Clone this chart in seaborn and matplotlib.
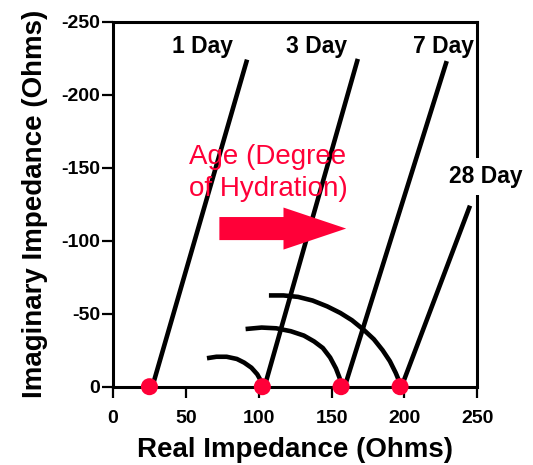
import matplotlib
matplotlib.use("Agg")
import matplotlib.pyplot as plt
import seaborn as sns
import pandas as pd

# Nyquist-style impedance spectra of a hydrating cement paste
ages = ["1 Day", "3 Day", "7 Day", "28 Day"]

# high-frequency intercepts on the real axis (Ohms)
intercept_real = [25, 102.5, 156.5, 197]

# low-frequency electrode spurs: start and end points (real, imaginary)
spur_real_start = [27, 104, 159, 198]
spur_real_end = [92, 168, 229, 245]
spur_imag_end = [-224, -224.5, -223, -124]

# bulk arcs ending at the intercepts of the older pastes
arc_3day_real = [64.5, 71, 78, 85, 90, 95, 99, 101.5, 102.5]
arc_3day_imag = [-19.5, -20.5, -20.5, -19, -16.5, -13, -8.5, -4, 0]

arc_7day_real = [91, 102, 112, 122, 131, 138, 144, 149, 153, 155.5, 156.5]
arc_7day_imag = [-39.5, -40.5, -40, -38, -35, -31, -26.5, -20, -12.5, -6, 0]

arc_28day_real = [107, 117, 127, 137, 147, 156, 164, 172, 179, 185, 190, 194, 196.5, 197]
arc_28day_imag = [-62.5, -62.5, -61.5, -59, -55, -50.5, -45.5, -39, -32.5, -25, -17.5, -9.5, -3.5, 0]

# label anchors (real, imaginary) for each age
label_real = [61.4, 140, 226.7, 256]
label_imag = [-228.3, -228.3, -228.3, -139.7]

x_ticks = [0, 50, 100, 150, 200, 250]
y_ticks = [0, -50, -100, -150, -200, -250]

RED = "#FF0038"
INK = "black"

sns.set_theme(style="white")
plt.rcParams["font.family"] = ["Liberation Sans", "DejaVu Sans"]
plt.rcParams["axes.unicode_minus"] = False

fig = plt.figure(figsize=(5.33, 4.65), dpi=100)
ax = fig.add_axes([0.212, 0.1684, 0.6835, 0.785])

lw = 3.3
# spurs
for x0, x1, y1 in zip(spur_real_start, spur_real_end, spur_imag_end):
    df = pd.DataFrame({"real": [x0, x1], "imag": [0, y1]})
    sns.lineplot(data=df, x="real", y="imag", sort=False, estimator=None,
                 color=INK, lw=lw, ax=ax, solid_capstyle="butt")

# arcs
for xs, ys in [(arc_3day_real, arc_3day_imag),
               (arc_7day_real, arc_7day_imag),
               (arc_28day_real, arc_28day_imag)]:
    df = pd.DataFrame({"real": xs, "imag": ys})
    sns.lineplot(data=df, x="real", y="imag", sort=False, estimator=None,
                 color=INK, lw=lw, ax=ax, solid_capstyle="butt",
                 solid_joinstyle="round")

# intercept markers
dots = pd.DataFrame({"real": intercept_real, "imag": [0] * len(intercept_real)})
sns.scatterplot(data=dots, x="real", y="imag", s=150, color=RED,
                edgecolor="none", zorder=6, clip_on=False, ax=ax)

# age labels
for name, lx, ly in zip(ages, label_real, label_imag):
    kw = {}
    if name == "28 Day":
        kw["bbox"] = dict(boxstyle="square,pad=0.3", fc="white", ec="none")
    ax.text(lx, ly, name, ha="center", va="baseline", fontsize=16.5,
            fontweight="bold", color=INK, zorder=7, clip_on=False, **kw)

# hydration arrow and caption
ax.arrow(73, -108.3, 87, 0, width=15.8, head_width=28.8, head_length=43,
         length_includes_head=True, color=RED, lw=0, zorder=4)
ax.text(106.4, -152.3, "Age (Degree", ha="center", va="baseline",
        fontsize=20, color=RED)
ax.text(106.4, -130.3, "of Hydration)", ha="center", va="baseline",
        fontsize=20, color=RED)

ax.set_xlim(0, 250)
ax.set_ylim(0, -250)
ax.set_xticks(x_ticks)
ax.set_yticks(y_ticks)
ax.set_xticklabels([str(t) for t in x_ticks])
ax.set_yticklabels([str(t) for t in y_ticks])

for side in ["left", "right", "top", "bottom"]:
    ax.spines[side].set_visible(True)
    ax.spines[side].set_color(INK)
    ax.spines[side].set_linewidth(2.2)

ax.tick_params(axis="both", which="major", direction="out", length=8,
               width=1.6, color=INK, labelsize=14, labelcolor=INK)
ax.tick_params(axis="x", pad=9, bottom=True)
ax.tick_params(axis="y", pad=1, left=True)
for lab in ax.get_xticklabels() + ax.get_yticklabels():
    lab.set_fontweight("bold")

ax.set_xlabel("Real Impedance (Ohms)", fontsize=20, fontweight="bold",
              color=INK, labelpad=7)
ax.set_ylabel("Imaginary Impedance (Ohms)", fontsize=20, fontweight="bold",
              color=INK, labelpad=10)
ax.grid(False)

fig.savefig("out.png", dpi=100, facecolor="white")
